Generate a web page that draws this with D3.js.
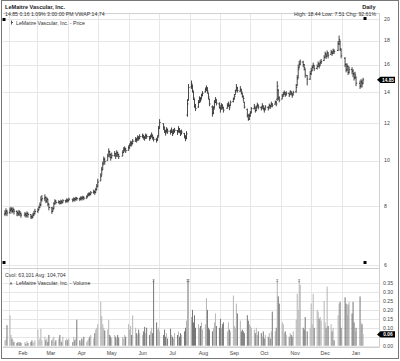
<!DOCTYPE html>
<html>
<head>
<meta charset="utf-8">
<script src="https://cdn.jsdelivr.net/npm/d3@7"></script>
<style>
  html, body { margin: 0; padding: 0; background: #fff; }
  svg { display: block; font-family: "Liberation Sans", Arial, sans-serif; }
</style>
</head>
<body>
<svg id="chart" width="400" height="361"></svg>
<script>
// trading calendar, one inner array per month
const tradeMonths = ["2015-01", "2015-02", "2015-03", "2015-04", "2015-05", "2015-06", "2015-07",
  "2015-08", "2015-09", "2015-10", "2015-11", "2015-12", "2016-01"];
const tradeDays = [
  [28, 29, 30],
  [2, 3, 4, 5, 6, 9, 10, 11, 12, 13, 17, 18, 19, 20, 23, 24, 25, 26, 27],
  [2, 3, 4, 5, 6, 9, 10, 11, 12, 13, 16, 17, 18, 19, 20, 23, 24, 25, 26, 27, 30, 31],
  [1, 2, 6, 7, 8, 9, 10, 13, 14, 15, 16, 17, 20, 21, 22, 23, 24, 27, 28, 29, 30],
  [1, 4, 5, 6, 7, 8, 11, 12, 13, 14, 15, 18, 19, 20, 21, 22, 26, 27, 28, 29],
  [1, 2, 3, 4, 5, 8, 9, 10, 11, 12, 15, 16, 17, 18, 19, 22, 23, 24, 25, 26, 29, 30],
  [1, 2, 6, 7, 8, 9, 10, 13, 14, 15, 16, 17, 20, 21, 22, 23, 24, 27, 28, 29, 30, 31],
  [3, 4, 5, 6, 7, 10, 11, 12, 13, 14, 17, 18, 19, 20, 21, 24, 25, 26, 27, 28, 31],
  [1, 2, 3, 4, 8, 9, 10, 11, 14, 15, 16, 17, 18, 21, 22, 23, 24, 25, 28, 29, 30],
  [1, 2, 5, 6, 7, 8, 9, 12, 13, 14, 15, 16, 19, 20, 21, 22, 23, 26, 27, 28, 29, 30],
  [2, 3, 4, 5, 6, 9, 10, 11, 12, 13, 16, 17, 18, 19, 20, 23, 24, 25, 27, 30],
  [1, 2, 3, 4, 7, 8, 9, 10, 11, 14, 15, 16, 17, 18, 21, 22, 23, 24, 28, 29, 30, 31],
  [4, 5, 6, 7, 8, 11, 12, 13, 14, 15, 19, 20, 21, 22]
];

// daily OHLC
const opens = [
  [7.70, 7.74, 7.80],
  [7.76, 7.84, 7.88, 7.80, 7.86, 7.80, 7.74, 7.70, 7.78, 7.72, 7.66, 7.70, 7.64, 7.72, 7.68, 7.60, 7.58, 7.66, 7.72],
  [7.80, 7.86, 7.95, 8.05, 8.26, 8.30, 8.34, 8.20, 8.28, 8.08, 7.94, 7.80, 7.90, 8.10, 8.20, 8.15, 8.18, 8.12, 8.20, 8.15, 8.22, 8.20],
  [8.25, 8.22, 8.28, 8.24, 8.30, 8.26, 8.32, 8.30, 8.28, 8.34, 8.30, 8.36, 8.32, 8.38, 8.45, 8.50, 8.48, 8.55, 8.60, 8.55, 8.68],
  [8.82, 9.05, 9.30, 9.58, 9.85, 10.05, 10.00, 10.25, 10.45, 10.30, 10.15, 10.25, 10.35, 10.26, 10.40, 10.30, 10.22, 10.40, 10.55, 10.60],
  [10.52, 10.65, 10.78, 10.90, 10.86, 11.00, 11.10, 11.06, 11.20, 11.15, 11.25, 11.30, 11.20, 11.16, 11.30, 11.25, 11.15, 11.25, 11.32, 11.20, 11.10, 11.05],
  [11.28, 11.72, 11.98, 11.78, 11.58, 11.50, 11.62, 11.55, 11.50, 11.56, 11.42, 11.55, 11.58, 11.52, 11.68, 11.55, 11.40, 11.42, 11.28, 11.18, 12.50, 13.45],
  [14.35, 14.45, 14.00, 13.50, 13.05, 13.00, 13.30, 13.55, 13.52, 13.75, 14.00, 14.15, 14.28, 13.90, 13.50, 13.00, 12.62, 12.95, 13.30, 13.45, 13.20],
  [12.95, 12.88, 13.10, 12.98, 12.92, 13.10, 13.15, 13.08, 13.35, 13.52, 13.82, 14.10, 14.25, 14.05, 14.15, 13.90, 13.70, 13.30, 12.85, 12.45, 12.25],
  [12.45, 12.65, 12.90, 12.98, 12.78, 13.00, 13.12, 12.98, 12.95, 13.05, 12.90, 12.85, 12.98, 12.96, 13.08, 13.05, 13.18, 13.18, 13.32, 13.50, 14.10, 13.58],
  [13.52, 13.72, 13.85, 13.95, 13.80, 13.90, 13.82, 14.00, 13.90, 13.80, 14.00, 14.45, 15.00, 15.75, 16.05, 16.20, 16.00, 15.65, 15.15, 14.90],
  [15.30, 15.52, 15.80, 15.92, 15.70, 15.85, 16.05, 15.92, 16.15, 16.32, 16.58, 16.85, 16.68, 16.95, 16.82, 17.00, 16.92, 17.10, 17.15, 17.70, 17.95, 17.20],
  [16.50, 16.00, 15.60, 15.85, 15.40, 15.62, 15.50, 15.30, 15.00, 15.05, 14.60, 14.40, 14.70, 14.60]
];
const closes = [
  [7.72, 7.80, 7.74],
  [7.85, 7.90, 7.82, 7.88, 7.80, 7.74, 7.70, 7.78, 7.72, 7.66, 7.70, 7.64, 7.72, 7.68, 7.60, 7.58, 7.66, 7.72, 7.80],
  [7.85, 7.95, 8.05, 8.25, 8.30, 8.35, 8.20, 8.28, 8.10, 7.95, 7.80, 7.90, 8.10, 8.20, 8.15, 8.18, 8.12, 8.20, 8.15, 8.22, 8.20, 8.25],
  [8.22, 8.28, 8.24, 8.30, 8.26, 8.32, 8.30, 8.28, 8.34, 8.30, 8.36, 8.32, 8.38, 8.45, 8.50, 8.48, 8.55, 8.60, 8.55, 8.68, 8.80],
  [9.00, 9.25, 9.55, 9.80, 10.05, 9.95, 10.20, 10.45, 10.30, 10.15, 10.25, 10.35, 10.20, 10.40, 10.30, 10.20, 10.40, 10.55, 10.60, 10.50],
  [10.65, 10.75, 10.90, 10.85, 11.00, 11.10, 11.05, 11.20, 11.15, 11.25, 11.30, 11.20, 11.15, 11.30, 11.25, 11.15, 11.25, 11.35, 11.20, 11.10, 11.05, 11.20],
  [11.70, 12.05, 11.80, 11.60, 11.45, 11.65, 11.55, 11.50, 11.62, 11.40, 11.55, 11.60, 11.48, 11.70, 11.58, 11.42, 11.50, 11.30, 11.15, 11.40, 13.20, 14.30],
  [14.55, 14.10, 13.60, 13.05, 12.90, 13.30, 13.55, 13.45, 13.75, 13.90, 14.15, 14.30, 14.05, 13.65, 13.20, 12.60, 12.85, 13.30, 13.50, 13.25, 13.10],
  [12.85, 13.10, 13.00, 12.80, 13.10, 13.20, 12.95, 13.30, 13.50, 13.70, 14.00, 14.30, 14.10, 14.20, 14.00, 13.75, 13.55, 13.00, 12.50, 12.25, 12.45],
  [12.60, 12.90, 13.05, 12.75, 12.95, 13.15, 13.00, 12.90, 13.10, 12.95, 12.80, 13.00, 12.90, 13.10, 13.00, 13.20, 13.10, 13.30, 13.20, 14.40, 13.60, 13.45],
  [13.70, 13.85, 13.95, 13.80, 13.90, 13.80, 14.00, 13.90, 13.75, 13.95, 14.30, 14.90, 15.60, 16.00, 16.20, 16.00, 15.75, 15.20, 14.90, 15.30],
  [15.50, 15.80, 15.95, 15.70, 15.85, 16.05, 15.90, 16.15, 16.25, 16.55, 16.85, 16.65, 16.95, 16.75, 17.00, 16.90, 17.10, 17.05, 17.70, 18.10, 17.30, 16.70],
  [16.00, 15.60, 15.90, 15.40, 15.60, 15.50, 15.30, 15.00, 15.20, 14.60, 14.40, 14.70, 14.55, 14.85]
];
const highs = [
  [7.85, 7.92, 7.86],
  [7.95, 7.98, 7.94, 7.96, 7.90, 7.84, 7.80, 7.86, 7.82, 7.76, 7.78, 7.74, 7.80, 7.76, 7.70, 7.66, 7.74, 7.82, 7.90],
  [7.92, 8.02, 8.15, 8.40, 8.45, 8.48, 8.40, 8.36, 8.30, 8.10, 7.96, 7.98, 8.16, 8.28, 8.24, 8.24, 8.20, 8.26, 8.22, 8.28, 8.26, 8.32],
  [8.28, 8.34, 8.30, 8.36, 8.32, 8.38, 8.36, 8.34, 8.40, 8.38, 8.42, 8.40, 8.44, 8.52, 8.56, 8.56, 8.62, 8.68, 8.64, 8.76, 8.92],
  [9.15, 9.40, 9.70, 9.95, 10.20, 10.15, 10.35, 10.62, 10.50, 10.35, 10.40, 10.48, 10.38, 10.52, 10.45, 10.35, 10.52, 10.68, 10.72, 10.65],
  [10.78, 10.88, 11.02, 11.00, 11.12, 11.22, 11.18, 11.32, 11.28, 11.38, 11.42, 11.35, 11.28, 11.42, 11.38, 11.28, 11.36, 11.48, 11.34, 11.24, 11.18, 11.32],
  [11.85, 12.25, 12.00, 11.78, 11.62, 11.78, 11.70, 11.64, 11.76, 11.58, 11.68, 11.74, 11.62, 11.84, 11.72, 11.58, 11.64, 11.45, 11.30, 11.55, 13.50, 14.55],
  [14.80, 14.50, 14.05, 13.55, 13.20, 13.45, 13.70, 13.65, 13.88, 14.05, 14.30, 14.45, 14.30, 13.95, 13.55, 13.10, 13.05, 13.45, 13.65, 13.50, 13.30],
  [13.05, 13.25, 13.18, 13.00, 13.25, 13.35, 13.15, 13.42, 13.62, 13.85, 14.15, 14.55, 14.35, 14.40, 14.20, 13.95, 13.72, 13.35, 12.90, 12.55, 12.60],
  [12.75, 13.00, 13.20, 13.00, 13.10, 13.28, 13.15, 13.05, 13.25, 13.10, 12.95, 13.12, 13.05, 13.22, 13.15, 13.35, 13.25, 13.42, 13.40, 14.75, 14.20, 13.70],
  [13.85, 14.00, 14.10, 13.98, 14.05, 13.95, 14.12, 14.05, 13.92, 14.08, 14.55, 15.20, 16.00, 16.30, 16.40, 16.30, 16.05, 15.70, 15.20, 15.50],
  [15.75, 15.95, 16.15, 15.95, 16.00, 16.25, 16.15, 16.35, 16.45, 16.75, 17.05, 16.90, 17.15, 17.00, 17.20, 17.10, 17.30, 17.25, 17.95, 18.44, 18.00, 17.30],
  [16.60, 16.10, 16.10, 15.90, 15.85, 15.80, 15.65, 15.40, 15.45, 15.10, 14.80, 14.90, 14.85, 15.00]
];
const lows = [
  [7.62, 7.66, 7.62],
  [7.70, 7.78, 7.72, 7.76, 7.68, 7.62, 7.62, 7.64, 7.62, 7.56, 7.60, 7.56, 7.60, 7.56, 7.52, 7.51, 7.56, 7.62, 7.68],
  [7.74, 7.84, 7.92, 8.00, 8.18, 8.20, 8.12, 8.14, 8.00, 7.84, 7.70, 7.78, 7.88, 8.06, 8.08, 8.10, 8.06, 8.10, 8.08, 8.12, 8.12, 8.16],
  [8.14, 8.20, 8.16, 8.22, 8.18, 8.24, 8.22, 8.20, 8.26, 8.22, 8.28, 8.24, 8.30, 8.36, 8.42, 8.40, 8.46, 8.50, 8.46, 8.54, 8.64],
  [8.78, 9.05, 9.30, 9.55, 9.85, 9.80, 10.00, 10.25, 10.15, 10.00, 10.10, 10.20, 10.08, 10.25, 10.18, 10.08, 10.22, 10.40, 10.45, 10.38],
  [10.50, 10.60, 10.75, 10.72, 10.85, 10.96, 10.92, 11.05, 11.02, 11.10, 11.16, 11.08, 11.02, 11.15, 11.12, 11.02, 11.10, 11.20, 11.08, 10.98, 10.92, 11.02],
  [11.25, 11.70, 11.62, 11.45, 11.30, 11.48, 11.40, 11.36, 11.46, 11.28, 11.40, 11.46, 11.34, 11.50, 11.44, 11.28, 11.36, 11.15, 11.00, 11.10, 12.40, 13.40],
  [14.20, 13.95, 13.45, 12.95, 12.75, 12.95, 13.25, 13.30, 13.50, 13.70, 13.95, 14.05, 13.90, 13.50, 13.05, 12.40, 12.55, 12.90, 13.25, 13.10, 12.90],
  [12.65, 12.85, 12.85, 12.65, 12.90, 13.00, 12.80, 13.05, 13.30, 13.50, 13.80, 14.05, 13.95, 14.00, 13.82, 13.60, 13.35, 12.90, 12.35, 12.15, 12.20],
  [12.40, 12.62, 12.85, 12.65, 12.75, 12.98, 12.85, 12.78, 12.92, 12.80, 12.65, 12.82, 12.78, 12.95, 12.88, 13.02, 12.98, 13.15, 13.05, 13.40, 13.45, 13.30],
  [13.50, 13.68, 13.80, 13.66, 13.75, 13.65, 13.80, 13.76, 13.60, 13.78, 13.95, 14.40, 14.95, 15.70, 15.95, 15.80, 15.55, 15.00, 14.45, 14.85],
  [15.20, 15.50, 15.70, 15.50, 15.62, 15.82, 15.70, 15.90, 16.05, 16.30, 16.55, 16.45, 16.65, 16.50, 16.80, 16.70, 16.85, 16.85, 17.10, 17.60, 17.10, 16.50],
  [15.80, 15.40, 15.50, 15.20, 15.30, 15.25, 15.05, 14.80, 14.90, 14.40, 14.20, 14.30, 14.30, 14.55]
];
// daily volume, millions of shares
const volumes = [
  [0.03, 0.035, 0.115],
  [0.17, 0.06, 0.04, 0.03, 0.02, 0.015, 0.02, 0.01, 0.02, 0.015, 0.02, 0.01, 0.025, 0.015, 0.02, 0.03, 0.015, 0.02, 0.03],
  [0.09, 0.03, 0.04, 0.095, 0.03, 0.05, 0.03, 0.04, 0.02, 0.06, 0.03, 0.04, 0.05, 0.02, 0.03, 0.04, 0.06, 0.03, 0.02, 0.05, 0.03, 0.04],
  [0.03, 0.04, 0.02, 0.05, 0.03, 0.04, 0.145, 0.03, 0.02, 0.04, 0.03, 0.05, 0.02, 0.03, 0.04, 0.05, 0.06, 0.04, 0.07, 0.09, 0.10],
  [0.12, 0.245, 0.165, 0.12, 0.10, 0.085, 0.09, 0.145, 0.06, 0.05, 0.04, 0.06, 0.05, 0.04, 0.06, 0.045, 0.05, 0.04, 0.06, 0.05],
  [0.12, 0.09, 0.11, 0.06, 0.17, 0.10, 0.07, 0.06, 0.09, 0.07, 0.06, 0.08, 0.105, 0.07, 0.10, 0.06, 0.08, 0.10, 0.07, 0.62, 0.13, 0.09],
  [0.10, 0.08, 0.06, 0.09, 0.05, 0.07, 0.04, 0.095, 0.06, 0.05, 0.04, 0.07, 0.06, 0.08, 0.05, 0.07, 0.06, 0.08, 0.10, 0.14, 0.55, 0.48],
  [0.16, 0.20, 0.13, 0.17, 0.10, 0.12, 0.10, 0.11, 0.13, 0.09, 0.12, 0.265, 0.20, 0.10, 0.09, 0.08, 0.10, 0.13, 0.18, 0.11, 0.10],
  [0.15, 0.10, 0.12, 0.13, 0.08, 0.13, 0.09, 0.08, 0.28, 0.11, 0.10, 0.235, 0.18, 0.14, 0.08, 0.09, 0.08, 0.07, 0.17, 0.14, 0.12],
  [0.11, 0.10, 0.09, 0.07, 0.10, 0.06, 0.08, 0.07, 0.05, 0.08, 0.04, 0.06, 0.05, 0.07, 0.04, 0.08, 0.19, 0.08, 0.10, 0.60, 0.275, 0.235],
  [0.13, 0.12, 0.07, 0.08, 0.06, 0.05, 0.07, 0.06, 0.05, 0.08, 0.145, 0.29, 0.20, 0.45, 0.34, 0.10, 0.09, 0.16, 0.08, 0.10],
  [0.235, 0.12, 0.29, 0.10, 0.20, 0.19, 0.15, 0.16, 0.14, 0.25, 0.13, 0.10, 0.33, 0.11, 0.12, 0.08, 0.10, 0.03, 0.17, 0.235, 0.245, 0.10],
  [0.27, 0.235, 0.17, 0.23, 0.245, 0.18, 0.245, 0.13, 0.08, 0.10, 0.275, 0.13, 0.12, 0.063]
];

const priceTicks = [6, 8, 10, 12, 14, 16, 18, 20];
const volumeTicks = [0, 0.05, 0.10, 0.15, 0.20, 0.25, 0.30, 0.35];
const monthLabels = ["Feb", "Mar", "Apr", "May", "Jun", "Jul", "Aug", "Sep", "Oct", "Nov", "Dec", "Jan"];

const titleText = "LeMaitre Vascular, Inc.";
const quoteText = "14.85 0.16 1.09% 3:00:00 PM VWAP:14.74";
const rangeText = "High: 18.44 Low: 7.51 Chg: 92.61%";
const volumeText = "Cvol: 63,101 Avg: 104,704";
const lastPrice = 14.85;
const lastVolume = 0.063101;

/** Class drawing the price + volume panels. */
class StockChart {
  constructor() {
    this.svg = d3.select("#chart");
    this.plotLeft = 3;
    this.plotRight = 379;
    this.priceTop = 13;
    this.priceBottom = 268;
    this.volBottom = 347.5;
    this.font = 5.2;

    // flatten the month arrays into one row per trading day
    this.rows = [];
    tradeMonths.forEach((m, i) => {
      const [yy, mm] = m.split("-").map(Number);
      tradeDays[i].forEach((d, j) => {
        this.rows.push({
          date: new Date(yy, mm - 1, d),
          open: opens[i][j],
          close: closes[i][j],
          high: highs[i][j],
          low: lows[i][j],
          volume: volumes[i][j]
        });
      });
    });
    this.rows.forEach((d, i) => { d.up = i === 0 ? true : d.close >= this.rows[i - 1].close; });

    this.xScale = d3.scaleTime()
      .domain([new Date(2015, 0, 26), new Date(2016, 1, 7)])
      .range([this.plotLeft, this.plotRight]);

    this.yPrice = d3.scaleLog()
      .domain([6, 20])
      .range([265, 19]);

    this.yVol = d3.scaleLinear()
      .domain([0, 0.35])
      .range([345.7, 283]);

    this.drawFrame();
    this.drawPrice();
    this.drawVolume();
    this.drawHeader();
  }

  drawFrame() {
    let svg = this.svg;
    let months = d3.timeMonth.range(new Date(2015, 1, 1), new Date(2016, 0, 2));

    // vertical month grid lines
    svg.append("g")
      .selectAll("line")
      .data(months)
      .join("line")
      .attr("x1", d => Math.round(this.xScale(d)) + 0.5)
      .attr("x2", d => Math.round(this.xScale(d)) + 0.5)
      .attr("y1", this.priceTop)
      .attr("y2", this.volBottom)
      .attr("stroke", "#e6e6e6");

    // panel borders
    const g = svg.append("g").attr("stroke", "#d0d0d0").attr("fill", "none");
    g.append("line").attr("x1", this.plotLeft).attr("x2", this.plotRight + 0.5)
      .attr("y1", this.priceTop + 0.5).attr("y2", this.priceTop + 0.5);
    g.append("line").attr("x1", this.plotLeft).attr("x2", this.plotRight + 0.5)
      .attr("y1", this.priceBottom + 0.5).attr("y2", this.priceBottom + 0.5);
    g.append("line").attr("x1", this.plotLeft).attr("x2", this.plotRight + 0.5)
      .attr("y1", this.volBottom).attr("y2", this.volBottom);
    g.append("line").attr("x1", this.plotRight + 0.5).attr("x2", this.plotRight + 0.5)
      .attr("y1", this.priceTop).attr("y2", this.volBottom);

    // month labels, centred on mid month
    svg.append("g")
      .selectAll("text")
      .data(months)
      .join("text")
      .attr("x", d => this.xScale(d3.timeDay.offset(d, 14)))
      .attr("y", 355)
      .attr("text-anchor", "middle")
      .attr("font-size", this.font)
      .attr("fill", "#444")
      .text((d, i) => monthLabels[i]);

    // outer border
    svg.append("rect")
      .attr("x", 1.5).attr("y", 0.5)
      .attr("width", 397).attr("height", 358)
      .attr("fill", "none")
      .attr("stroke", "#777");
  }

  drawPrice() {
    let svg = this.svg;
    let y = this.yPrice;
    const tagY = y(lastPrice);

    // horizontal grid + right labels
    svg.append("g")
      .selectAll("line")
      .data(priceTicks)
      .join("line")
      .attr("x1", this.plotLeft)
      .attr("x2", this.plotRight)
      .attr("y1", d => Math.round(y(d)) + 0.5)
      .attr("y2", d => Math.round(y(d)) + 0.5)
      .attr("stroke", "#e6e6e6");

    // labels hidden behind the last-price tag are left out
    svg.append("g")
      .selectAll("text")
      .data(priceTicks.filter(d => Math.abs(y(d) - tagY) > 6))
      .join("text")
      .attr("x", 384)
      .attr("y", d => y(d) + 1.8)
      .attr("font-size", this.font)
      .attr("fill", "#444")
      .text(d => d);

    // OHLC bars: high-low line, open tick left, close tick right
    const bars = svg.append("g").attr("stroke", "#333").attr("stroke-width", 0.9);
    bars.selectAll("line.hl")
      .data(this.rows)
      .join("line")
      .attr("class", "hl")
      .attr("x1", d => this.xScale(d.date))
      .attr("x2", d => this.xScale(d.date))
      .attr("y1", d => y(d.high))
      .attr("y2", d => y(d.low));
    bars.selectAll("line.op")
      .data(this.rows)
      .join("line")
      .attr("class", "op")
      .attr("x1", d => this.xScale(d.date) - 1.1)
      .attr("x2", d => this.xScale(d.date))
      .attr("y1", d => y(d.open))
      .attr("y2", d => y(d.open));
    bars.selectAll("line.cl")
      .data(this.rows)
      .join("line")
      .attr("class", "cl")
      .attr("x1", d => this.xScale(d.date))
      .attr("x2", d => this.xScale(d.date) + 1.1)
      .attr("y1", d => y(d.close))
      .attr("y2", d => y(d.close));

    this.drawTag(tagY, d3.format(".2f")(lastPrice));

    // legend
    svg.append("text")
      .attr("x", 16).attr("y", 24.7)
      .attr("font-size", this.font)
      .attr("fill", "#333")
      .text(titleText + " - Price");
    svg.append("path")
      .attr("d", "M11.5,20.5 V24.5 M11.5,22.5 H13")
      .attr("stroke", "#555").attr("fill", "none");

    // corner handles
    const handles = [[4, 19.5], [365, 18.5], [4, 262.5], [365, 262.5]];
    svg.append("g")
      .selectAll("rect")
      .data(handles)
      .join("rect")
      .attr("x", d => d[0] - 1.5)
      .attr("y", d => d[1] - 1.5)
      .attr("width", 3)
      .attr("height", 3)
      .attr("fill", "#000");
  }

  drawVolume() {
    let svg = this.svg;
    let y = this.yVol;
    const clipMax = 0.366;
    const tagY = y(lastVolume);

    svg.append("g")
      .selectAll("line")
      .data(volumeTicks)
      .join("line")
      .attr("x1", this.plotLeft)
      .attr("x2", this.plotRight)
      .attr("y1", d => Math.round(y(d)) + 0.5)
      .attr("y2", d => Math.round(y(d)) + 0.5)
      .attr("stroke", "#e6e6e6");

    svg.append("g")
      .selectAll("text")
      .data(volumeTicks.filter(d => Math.abs(y(d) - tagY) > 6))
      .join("text")
      .attr("x", 383)
      .attr("y", d => y(d) + 1.8)
      .attr("font-size", this.font)
      .attr("fill", "#444")
      .text(d => d3.format(".2f")(d));

    svg.append("g")
      .selectAll("rect")
      .data(this.rows)
      .join("rect")
      .attr("x", d => this.xScale(d.date) - 0.5)
      .attr("width", 1)
      .attr("y", d => y(Math.min(d.volume, clipMax)))
      .attr("height", d => y(0) - y(Math.min(d.volume, clipMax)))
      .attr("fill", d => d.up ? "#b5b5b5" : "#777");

    // break marks on the clipped bars
    svg.append("g")
      .selectAll("path")
      .data(this.rows.filter(d => d.volume > clipMax))
      .join("path")
      .attr("d", d => {
        const cx = this.xScale(d.date);
        const top = y(clipMax);
        return `M${cx - 1},${top - 0.5} H${cx + 1} M${cx - 1},${top + 1.5} H${cx + 1}`;
      })
      .attr("stroke", "#666")
      .attr("stroke-width", 0.6);

    this.drawTag(tagY, d3.format(".2f")(lastVolume));

    // legend
    svg.append("text")
      .attr("x", 5).attr("y", 277)
      .attr("font-size", this.font)
      .attr("fill", "#333")
      .text(volumeText);
    svg.append("text")
      .attr("x", 16).attr("y", 285.2)
      .attr("font-size", this.font)
      .attr("fill", "#333")
      .text(titleText + " - Volume");
    svg.append("path")
      .attr("d", "M9.5,284.5 L11,281.5 L12.5,284.5 Z")
      .attr("fill", "#777");
  }

  drawTag(cy, label) {
    let svg = this.svg;
    svg.append("path")
      .attr("d", `M377,${cy} L380.5,${cy - 3.2} H395 V${cy + 3.2} H380.5 Z`)
      .attr("fill", "#000");
    svg.append("text")
      .attr("x", 388)
      .attr("y", cy + 1.8)
      .attr("text-anchor", "middle")
      .attr("font-size", 4.8)
      .attr("font-weight", "bold")
      .attr("fill", "#fff")
      .text(label);
  }

  drawHeader() {
    let svg = this.svg;
    svg.append("text")
      .attr("x", 5).attr("y", 8.6)
      .attr("font-size", 5.6)
      .attr("font-weight", "bold")
      .attr("fill", "#222")
      .text(titleText);
    svg.append("text")
      .attr("x", 5).attr("y", 16.2)
      .attr("font-size", this.font)
      .attr("fill", "#333")
      .text(quoteText);
    svg.append("text")
      .attr("x", 375.5).attr("y", 8.6)
      .attr("text-anchor", "end")
      .attr("font-size", 5.6)
      .attr("font-weight", "bold")
      .attr("fill", "#222")
      .text("Daily");
    svg.append("text")
      .attr("x", 376).attr("y", 16.2)
      .attr("text-anchor", "end")
      .attr("font-size", this.font)
      .attr("fill", "#333")
      .text(rangeText);
  }
}

new StockChart();
</script>
</body>
</html>
